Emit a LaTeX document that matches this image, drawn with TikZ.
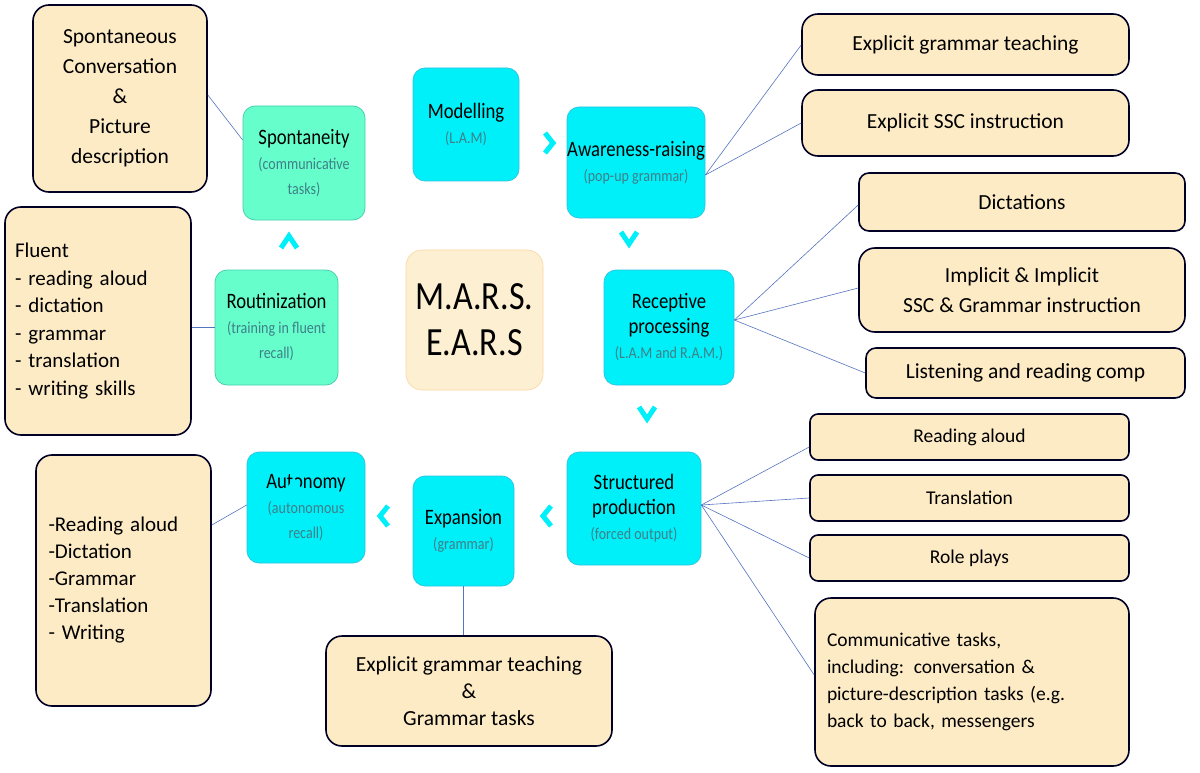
\documentclass[tikz,border=0pt]{standalone}
\usepackage{fontspec}
\setmainfont{Carlito}
\newfontfamily\cond{Carlito}[FakeStretch=0.85]
\begin{document}
\begin{tikzpicture}[x=1pt,y=-1pt,
 tan/.style={draw=black!85!blue,line width=1.6pt,fill=tanf,rounded corners=16pt,inner sep=0pt,font=\fontsize{21.5}{30}\selectfont,align=center},
 cy/.style={draw=cyb,line width=0.7pt,fill=cyf,rounded corners=12pt,inner sep=0pt,align=center,font=\cond\fontsize{22}{25}\selectfont},
 gr/.style={cy,fill=grf,draw=grb},
 lk/.style={draw=lnk,line width=0.6pt},
 chev/.style={draw=cyf,line width=5pt,line join=miter}]
\definecolor{tanf}{HTML}{FDEBC6}
\definecolor{cyf}{HTML}{00F0FA}
\definecolor{cyb}{HTML}{2CC4E0}
\definecolor{grf}{HTML}{66FFCC}
\definecolor{grb}{HTML}{44CCAA}
\definecolor{lnk}{HTML}{5575C0}
\definecolor{subc}{HTML}{3F7F88}
\newcommand\subt[1]{{\fontsize{16.5}{25}\selectfont\color{subc}#1}}
\useasboundingbox (0,0) rectangle (1200,773);
\fill[white] (0,0) rectangle (1200,773);
% tan boxes
\node[tan,minimum width=174pt,minimum height=187pt] (A) at (120,98.5) {Spontaneous\\Conversation\\\&\\Picture\\description};
\node[tan,minimum width=186pt,minimum height=228pt,align=left,text width=166pt,font=\fontsize{21}{27.5}\selectfont] (B) at (98,321) {Fluent\\- reading aloud\\- dictation\\- grammar\\- translation\\- writing skills};
\node[tan,minimum width=175pt,minimum height=251pt,align=left,text width=150pt,font=\fontsize{21}{27}\selectfont] (C) at (123.5,580.5) {-Reading aloud\\-Dictation\\-Grammar\\-Translation\\ - Writing};
\node[tan,minimum width=286pt,minimum height=110pt,font=\fontsize{21.5}{27}\selectfont] (D) at (469,691) {Explicit grammar teaching\\\&\\Grammar tasks};
\node[tan,minimum width=327pt,minimum height=61pt] (E) at (965.5,44.5) {Explicit grammar teaching};
\node[tan,minimum width=327pt,minimum height=66pt] (F) at (965.5,123) {Explicit SSC instruction};
\node[tan,minimum width=326pt,minimum height=58pt,rounded corners=10pt] (G) at (1022,202) {Dictations};
\node[tan,minimum width=326pt,minimum height=84pt] (H) at (1022,290) {Implicit \& Implicit\\SSC \& Grammar instruction};
\node[tan,minimum width=319pt,minimum height=50pt,rounded corners=10pt] (I) at (1025.5,373) {Listening and reading comp};
\node[tan,minimum width=319pt,minimum height=46pt,rounded corners=8pt,font=\fontsize{19.5}{22}\selectfont] (J) at (969.5,437) {Reading aloud};
\node[tan,minimum width=319pt,minimum height=46pt,rounded corners=8pt,font=\fontsize{19.5}{22}\selectfont] (K) at (969.5,498) {Translation};
\node[tan,minimum width=319pt,minimum height=46pt,rounded corners=8pt,font=\fontsize{19.5}{22}\selectfont] (L) at (969.5,558) {Role plays};
\node[tan,minimum width=314pt,minimum height=168pt,align=left,text width=290pt,font=\fontsize{19.5}{27}\selectfont] (M) at (972,682) {Communicative tasks,\\including: conversation \&\\picture-description tasks (e.g.\\back to back, messengers\vphantom{g}\\[22pt]};
% cycle nodes
\node[cy,minimum width=106pt,minimum height=113pt] (mod) at (466,124.5) {Modelling\\\subt{(L.A.M)}};
\node[cy,minimum width=138pt,minimum height=111pt] (awr) at (636,162.5) {Awareness-raising\\\subt{(pop-up grammar)}};
\node[cy,minimum width=130pt,minimum height=115pt] (rec) at (669,327.5) {Receptive\\processing\\\subt{(L.A.M and R.A.M.)}};
\node[cy,minimum width=134pt,minimum height=113pt] (str) at (634,508.5) {Structured\\production\\\subt{(forced output)}};
\node[cy,minimum width=101pt,minimum height=110pt] (exp) at (463.5,531) {Expansion\\\subt{(grammar)}};
\node[cy,minimum width=118pt,minimum height=111pt] (aut) at (306,507.5) {Autonomy\\\subt{(autonomous}\\\subt{recall)}};
\node[gr,minimum width=122pt,minimum height=114pt] (spo) at (304,163) {Spontaneity\\\subt{(communicative}\\\subt{tasks)}};
\node[gr,minimum width=123pt,minimum height=115pt] (rou) at (276.5,327.5) {Routinization\\\subt{(training in fluent}\\\subt{recall)}};
\node[draw=tanf!80!orange,line width=0.6pt,fill=tanf!80!white,rounded corners=16pt,minimum width=137pt,minimum height=140pt,align=center,font=\cond\fontsize{40}{46}\selectfont] (mars) at (474.5,320) {M.A.R.S.\\E.A.R.S};
% chevrons
\coordinate (c1) at (549,143); \coordinate (c2) at (629,238); \coordinate (c3) at (647,413);
\coordinate (c4) at (547,516); \coordinate (c5) at (384,516); \coordinate (c6) at (294,488); \coordinate (c7) at (289,242);
\draw[chev] ([shift={(-4,-10)}]c1) -- ([shift={(4,0)}]c1) -- ([shift={(-4,10)}]c1);
\draw[chev] ([shift={(-8,-6)}]c2) -- ([shift={(0,6)}]c2) -- ([shift={(8,-6)}]c2);
\draw[chev] ([shift={(-8,-6)}]c3) -- ([shift={(0,6)}]c3) -- ([shift={(8,-6)}]c3);
\draw[chev] ([shift={(4,-10)}]c4) -- ([shift={(-4,0)}]c4) -- ([shift={(4,10)}]c4);
\draw[chev] ([shift={(4,-10)}]c5) -- ([shift={(-4,0)}]c5) -- ([shift={(4,10)}]c5);
\draw[chev] ([shift={(-8,6)}]c6) -- ([shift={(0,-6)}]c6) -- ([shift={(8,6)}]c6);
\draw[chev] ([shift={(-8,6)}]c7) -- ([shift={(0,-6)}]c7) -- ([shift={(8,6)}]c7);
% links
\draw[lk] (spo.west |- 0,140) -- (A.east |- 0,95);
\draw[lk] (rou.west) -- (B.east |- rou.west);
\draw[lk] (aut.west |- 0,505) -- (C.east |- 0,525);
\draw[lk] (exp.south) -- (D.north -| exp.south);
\draw[lk] (awr.east |- 0,175) -- (E.west |- 0,45);
\draw[lk] (awr.east |- 0,175) -- (F.west |- 0,123);
\draw[lk] (rec.east |- 0,320) -- (G.west |- 0,205);
\draw[lk] (rec.east |- 0,320) -- (H.west |- 0,288);
\draw[lk] (rec.east |- 0,320) -- (I.west |- 0,373);
\draw[lk] (str.east |- 0,505) -- (J.west |- 0,447);
\draw[lk] (str.east |- 0,505) -- (K.west |- 0,498);
\draw[lk] (str.east |- 0,505) -- (L.west |- 0,558);
\draw[lk] (str.east |- 0,505) -- (M.west |- 0,675);
\end{tikzpicture}
\end{document}
